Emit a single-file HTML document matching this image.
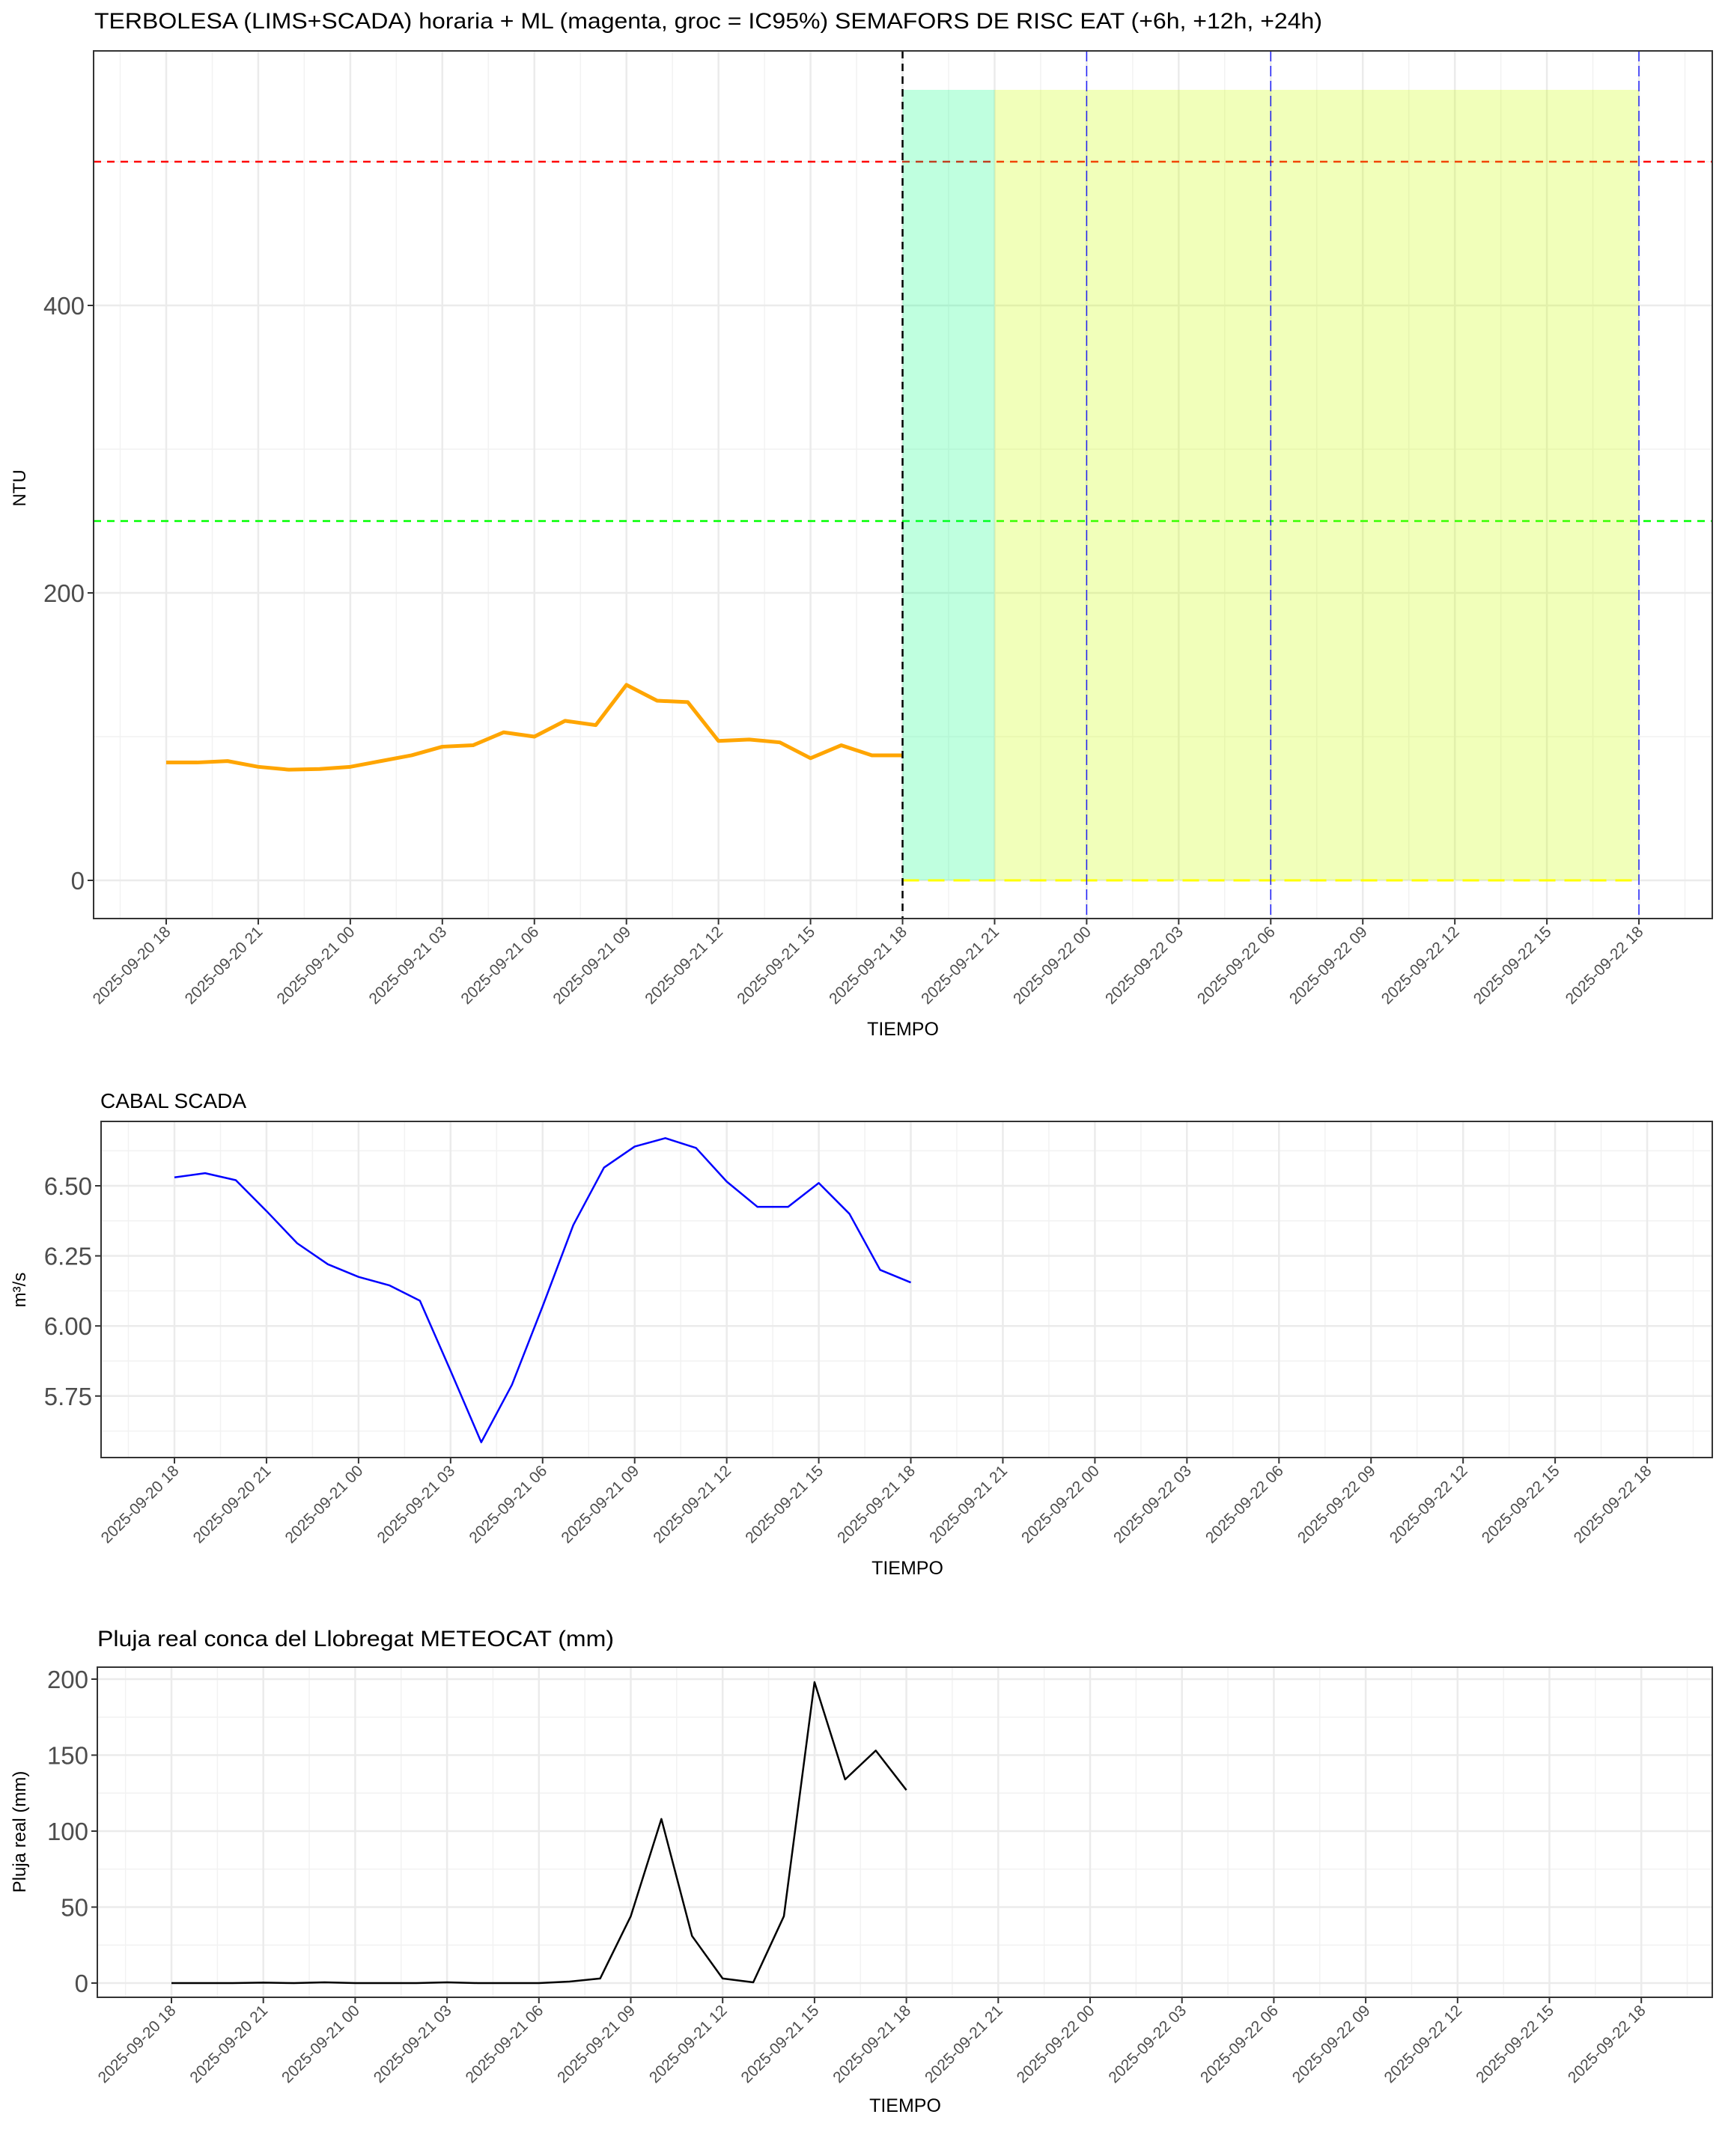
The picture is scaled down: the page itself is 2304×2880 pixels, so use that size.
<!DOCTYPE html>
<html><head><meta charset="utf-8">
<style>
html,body{margin:0;padding:0;background:#fff;}
svg{display:block;font-family:"Liberation Sans",sans-serif;}
</style></head>
<body>
<svg id="s" width="2304" height="2880" viewBox="0 0 2304 2880" xmlns="http://www.w3.org/2000/svg">
<text x="126" y="38" font-size="30" textLength="1640" lengthAdjust="spacingAndGlyphs" fill="#000">TERBOLESA (LIMS+SCADA) horaria + ML (magenta, groc = IC95%) SEMAFORS DE RISC EAT (+6h, +12h, +24h)</text>
<text x="134" y="1480" font-size="28" fill="#000">CABAL SCADA</text>
<text x="130" y="2199" font-size="30" textLength="690" lengthAdjust="spacingAndGlyphs" fill="#000">Pluja real conca del Llobregat METEOCAT (mm)</text>
<text transform="translate(34,652) rotate(-90)" font-size="24" text-anchor="middle">NTU</text>
<text transform="translate(34,1723) rotate(-90)" font-size="24" text-anchor="middle">m³/s</text>
<text transform="translate(34,2447) rotate(-90)" font-size="24" text-anchor="middle">Pluja real (mm)</text>
<text x="1206" y="1383" font-size="25" text-anchor="middle">TIEMPO</text>
<text x="1212" y="2103" font-size="25" text-anchor="middle">TIEMPO</text>
<text x="1209" y="2821" font-size="25" text-anchor="middle">TIEMPO</text>
</svg>
<script>
const S=document.getElementById('s');
const NS='http://www.w3.org/2000/svg';
function el(t,a,txt){const e=document.createElementNS(NS,t);for(const k in a)e.setAttribute(k,a[k]);if(txt!==undefined)e.textContent=txt;S.appendChild(e);return e;}
const labs=['2025-09-20 18','2025-09-20 21','2025-09-21 00','2025-09-21 03','2025-09-21 06','2025-09-21 09','2025-09-21 12','2025-09-21 15','2025-09-21 18','2025-09-21 21','2025-09-22 00','2025-09-22 03','2025-09-22 06','2025-09-22 09','2025-09-22 12','2025-09-22 15','2025-09-22 18'];
function panel(P){
  const X=h=>P.x0+P.dx*h, Y=v=>P.y0+(v-P.v0)*P.dy;
  el('rect',{x:P.L,y:P.T,width:P.R-P.L,height:P.B-P.T,fill:'#fff'});
  for(let h=-1.5;h<=49.5;h+=3){const x=X(h);if(x>P.L&&x<P.R)el('line',{x1:x,x2:x,y1:P.T,y2:P.B,stroke:'#f2f2f2','stroke-width':1.5});}
  P.ymin.forEach(v=>el('line',{x1:P.L,x2:P.R,y1:Y(v),y2:Y(v),stroke:'#f2f2f2','stroke-width':1.5}));
  for(let i=0;i<17;i++){const x=X(i*3);el('line',{x1:x,x2:x,y1:P.T,y2:P.B,stroke:'#ebebeb','stroke-width':2.5});}
  P.ymaj.forEach(v=>el('line',{x1:P.L,x2:P.R,y1:Y(v),y2:Y(v),stroke:'#ebebeb','stroke-width':2.5}));
  if(P.extra)P.extra(X,Y);
  const pts=P.data.map((v,i)=>X(i)+','+Y(v)).join(' ');
  el('polyline',{points:pts,fill:'none',stroke:P.col,'stroke-width':P.lw,'stroke-linejoin':'round'});
  if(P.extra2)P.extra2(X,Y);
  el('rect',{x:P.L,y:P.T,width:P.R-P.L,height:P.B-P.T,fill:'none',stroke:'#333','stroke-width':2});
  P.ymaj.forEach((v,i)=>{const y=Y(v);el('line',{x1:P.L-8,x2:P.L,y1:y,y2:y,stroke:'#333','stroke-width':2});
    el('text',{x:P.L-12,y:y+12,'font-size':33,fill:'#4d4d4d','text-anchor':'end'},P.ylab[i]);});
  for(let i=0;i<17;i++){const x=X(i*3);el('line',{x1:x,x2:x,y1:P.B,y2:P.B+8,stroke:'#333','stroke-width':2});
    el('text',{transform:`translate(${x+7},${P.B+19}) rotate(-45)`,'font-size':21,fill:'#4d4d4d','text-anchor':'end'},labs[i]);}
}
panel({L:125,R:2287,T:68,B:1227,x0:222,dx:40.98,y0:1176,v0:0,dy:-1.92,
 ymaj:[0,200,400],ymin:[100,300,500],ylab:['0','200','400'],col:'#ffa500',lw:5,
 data:[82,82,83,79,77,77.5,79,83,87,93,94,103,100,111,108,136,125,124,97,98,96,85,94,87,87],
 extra:(X,Y)=>{
  el('line',{x1:125,x2:2287,y1:Y(500),y2:Y(500),stroke:'#ff0000','stroke-width':2.5,'stroke-dasharray':'10 8'});
  el('line',{x1:125,x2:2287,y1:Y(250),y2:Y(250),stroke:'#00ff00','stroke-width':2.5,'stroke-dasharray':'10 8'});
  el('rect',{x:X(24),y:Y(550),width:X(27)-X(24),height:Y(0)-Y(550),fill:'#00ff80','fill-opacity':0.25});
  el('rect',{x:X(27),y:Y(550),width:X(48)-X(27),height:Y(0)-Y(550),fill:'#ccff00','fill-opacity':0.27});
  el('line',{x1:X(24),x2:X(48),y1:Y(0),y2:Y(0),stroke:'#ffff00','stroke-width':3,'stroke-dasharray':'22 12'});
  [30,36,48].forEach(h=>el('line',{x1:X(h),x2:X(h),y1:68,y2:1227,stroke:'#0000ff','stroke-width':1.5,'stroke-dasharray':'14 6','opacity':0.85}));
 },
 extra2:(X,Y)=>{el('line',{x1:X(24),x2:X(24),y1:68,y2:1227,stroke:'#000','stroke-width':2.5,'stroke-dasharray':'10 7'});}
});
panel({L:135,R:2287,T:1498,B:1947,x0:233,dx:40.98,y0:1584,v0:6.5,dy:-374.4,
 ymaj:[5.75,6,6.25,6.5],ymin:[5.625,5.875,6.125,6.375,6.625],ylab:['5.75','6.00','6.25','6.50'],col:'#0000ff',lw:2.5,
 data:[6.53,6.545,6.52,6.41,6.295,6.22,6.175,6.145,6.09,5.84,5.585,5.79,6.07,6.36,6.565,6.64,6.67,6.635,6.515,6.425,6.425,6.51,6.40,6.20,6.155]});
panel({L:130,R:2287,T:2227,B:2668,x0:229,dx:40.9,y0:2649,v0:0,dy:-2.03,
 ymaj:[0,50,100,150,200],ymin:[25,75,125,175],ylab:['0','50','100','150','200'],col:'#000',lw:2.5,
 data:[0,0,0,0.3,0,0.5,0,0,0,0.5,0,0,0,1,3,44,108,31,3,0.5,44,198,134,153,127]});
</script>
</body></html>
